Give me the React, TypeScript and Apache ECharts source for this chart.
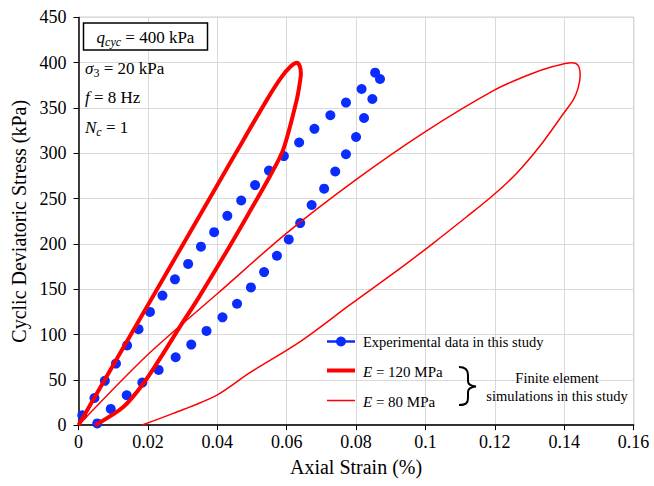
import React, { useEffect, useRef } from "react";
import * as echarts from "echarts";

// Experimental data (loading and unloading branches)
const expLoadStrain = [0.0011, 0.0046, 0.0076, 0.0108, 0.014, 0.0173, 0.0206, 0.0242, 0.0278, 0.0316, 0.0353, 0.0391, 0.0429, 0.0469, 0.0509, 0.0549, 0.0592, 0.0636, 0.068, 0.0726, 0.0771, 0.0816, 0.0855];
const expLoadStress = [11, 30, 49, 68, 88, 106, 125, 143, 161, 178, 197, 213, 231, 248, 265, 281, 297, 312, 327, 342, 356, 371, 389];
const expUnloadStrain = [0.0869, 0.0847, 0.0823, 0.08, 0.0771, 0.074, 0.0708, 0.0672, 0.0639, 0.0606, 0.0572, 0.0535, 0.0497, 0.0457, 0.0415, 0.0369, 0.0325, 0.028, 0.0231, 0.0184, 0.0139, 0.0093, 0.0054];
const expUnloadStress = [382, 360, 339, 318, 299, 280, 261, 243, 223, 205, 187, 169, 152, 134, 119, 104, 89, 75, 61, 47, 33, 18, 2];

// FE simulation, E = 120 MPa (closed loop: loading then unloading)
const e120Strain = [0, 0.0151, 0.0302, 0.0453, 0.0543, 0.0585, 0.0612, 0.063, 0.0638, 0.0641, 0.0638, 0.0629, 0.059, 0.0552, 0.0494, 0.0435, 0.0345, 0.0293, 0.0244, 0.0187, 0.0129, 0.0048];
const e120Stress = [0, 100, 200, 300, 359, 384, 396, 400, 396, 388, 378, 359, 304, 275, 236, 197, 140, 109, 79, 46, 20, 0];

// FE simulation, E = 80 MPa (closed loop: loading then unloading)
const e80Strain = [0, 0.02, 0.04, 0.06, 0.08, 0.1, 0.12, 0.13, 0.137, 0.1422, 0.144, 0.1446, 0.144, 0.1426, 0.1398, 0.133, 0.1263, 0.1196, 0.1119, 0.1023, 0.0927, 0.0783, 0.0638, 0.0494, 0.0398, 0.0273, 0.0182];
const e80Stress = [0, 78, 145, 212, 271, 324, 370, 387, 396, 400, 397, 386, 372, 359, 344, 308, 278, 254, 230, 201, 173, 133, 92, 58, 33, 13, 0];

const xTicks = { min: 0, max: 0.16, interval: 0.02 };
const yTicks = { min: 0, max: 450, interval: 50 };

const legendLabels = ["Experimental data in this study", "E = 120 MPa", "E = 80 MPa"];

const zip = (a: number[], b: number[]) => a.map((v, i) => [v, b[i]]);

const FONT = "'Liberation Serif', 'Times New Roman', serif";
const BLUE = "#0a2cff";
const RED = "#ff0000";

export default function App() {
  const ref = useRef<HTMLDivElement>(null);
  useEffect(() => {
    if (!ref.current) return;
    echarts.graphic.registerShape(
      "brace",
      echarts.graphic.extendPath(
        "M0,0 C7,0 9,3 9,8 L9,14 C9,17 11,19 17,19.5 C11,20 9,22 9,25 L9,31 C9,36 7,38 0,38",
        {}
      )
    );
    const chart = echarts.init(ref.current, undefined, { renderer: "svg" });
    const rich = {
      i: { fontFamily: FONT, fontStyle: "italic", fontSize: 17, color: "#000" },
      s: { fontFamily: FONT, fontStyle: "italic", fontSize: 12, color: "#000", verticalAlign: "bottom", lineHeight: 22 },
      sn: { fontFamily: FONT, fontSize: 12, color: "#000", verticalAlign: "bottom", lineHeight: 22 },
      n: { fontFamily: FONT, fontSize: 17, color: "#000" },
    };
    const legRich = {
      i: { fontFamily: FONT, fontStyle: "italic", fontSize: 15, color: "#000" },
      n: { fontFamily: FONT, fontSize: 15, color: "#000" },
    };
    chart.setOption({
      animation: false,
      backgroundColor: "#fff",
      grid: { left: 78.5, right: 20.4, top: 17.4, bottom: 60.8, show: true, borderColor: "#333", borderWidth: 1 },
      xAxis: {
        type: "value",
        min: xTicks.min,
        max: xTicks.max,
        interval: xTicks.interval,
        name: "Axial Strain (%)",
        nameLocation: "middle",
        nameGap: 32,
        nameTextStyle: { fontFamily: FONT, fontSize: 20, color: "#000" },
        axisLine: { show: true, lineStyle: { color: "#000", width: 1.5 } },
        axisTick: { show: true, inside: false, length: 5, lineStyle: { color: "#000" } },
        axisLabel: {
          fontFamily: FONT,
          fontSize: 18,
          color: "#000",
          margin: 8,
          formatter: (v: number) => String(+v.toFixed(2)),
        },
        splitLine: { show: true, lineStyle: { color: "#d9d9d9", width: 1 } },
      },
      yAxis: {
        type: "value",
        min: yTicks.min,
        max: yTicks.max,
        interval: yTicks.interval,
        name: "Cyclic Deviatoric Stress (kPa)",
        nameLocation: "middle",
        nameGap: 46,
        nameTextStyle: { fontFamily: FONT, fontSize: 20, color: "#000" },
        axisLine: { show: true, lineStyle: { color: "#000", width: 1.5 } },
        axisTick: { show: true, inside: false, length: 5, lineStyle: { color: "#000" } },
        axisLabel: { fontFamily: FONT, fontSize: 18, color: "#000", margin: 12 },
        splitLine: { show: true, lineStyle: { color: "#d9d9d9", width: 1 } },
      },
      series: [
        {
          name: legendLabels[0],
          type: "scatter",
          data: [...zip(expLoadStrain, expLoadStress), ...zip(expUnloadStrain, expUnloadStress)],
          symbol: "circle",
          symbolSize: 10,
          itemStyle: { color: BLUE, opacity: 1 },
          z: 2,
        },
        {
          name: legendLabels[1],
          type: "line",
          data: zip(e120Strain, e120Stress),
          showSymbol: false,
          smooth: 0.3,
          lineStyle: { color: RED, width: 4 },
          z: 3,
        },
        {
          name: legendLabels[2],
          type: "line",
          data: zip(e80Strain, e80Stress),
          showSymbol: false,
          smooth: 0.3,
          lineStyle: { color: RED, width: 1.5 },
          z: 3,
        },
      ],
      graphic: [
        // annotation box
        {
          type: "rect",
          shape: { x: 83.5, y: 23, width: 124, height: 27 },
          style: { fill: "#fff", stroke: "#000", lineWidth: 1.5 },
          z: 10,
        },
        {
          type: "text",
          x: 145.5,
          y: 37,
          style: { text: "{i|q}{s|cyc}{n| = 400 kPa}", rich, align: "center", verticalAlign: "middle" },
          z: 11,
        },
        {
          type: "text",
          x: 85,
          y: 68,
          style: { text: "{i|σ}{sn|3}{n| = 20 kPa}", rich, verticalAlign: "middle" },
          z: 11,
        },
        {
          type: "text",
          x: 85,
          y: 97,
          style: { text: "{i|f}{n| = 8 Hz}", rich, verticalAlign: "middle" },
          z: 11,
        },
        {
          type: "text",
          x: 85,
          y: 127,
          style: { text: "{i|N}{s|c}{n| = 1}", rich, verticalAlign: "middle" },
          z: 11,
        },
        // legend
        { type: "line", shape: { x1: 327, y1: 341.5, x2: 355, y2: 341.5 }, style: { stroke: BLUE, lineWidth: 2.5 }, z: 10 },
        { type: "circle", shape: { cx: 341, cy: 341.5, r: 5 }, style: { fill: BLUE }, z: 11 },
        { type: "text", x: 363, y: 342, style: { text: legendLabels[0], fontFamily: FONT, fontSize: 14.5, fill: "#000", verticalAlign: "middle" }, z: 11 },
        { type: "line", shape: { x1: 327, y1: 370.5, x2: 355, y2: 370.5 }, style: { stroke: RED, lineWidth: 4 }, z: 10 },
        { type: "text", x: 363, y: 372, style: { text: "{i|E}{n| = 120 MPa}", rich: legRich, verticalAlign: "middle" }, z: 11 },
        { type: "line", shape: { x1: 327, y1: 400.5, x2: 355, y2: 400.5 }, style: { stroke: RED, lineWidth: 1.5 }, z: 10 },
        { type: "text", x: 363, y: 402, style: { text: "{i|E}{n| = 80 MPa}", rich: legRich, verticalAlign: "middle" }, z: 11 },
        { type: "brace", x: 459, y: 367, style: { stroke: "#000", fill: "none", lineWidth: 2 }, z: 11 },
        { type: "text", x: 557, y: 378, style: { text: "Finite element", fontFamily: FONT, fontSize: 14.5, fill: "#000", align: "center", verticalAlign: "middle" }, z: 11 },
        { type: "text", x: 557, y: 396, style: { text: "simulations in this study", fontFamily: FONT, fontSize: 14.5, fill: "#000", align: "center", verticalAlign: "middle" }, z: 11 },
      ],
    });
    return () => chart.dispose();
  }, []);
  return <div ref={ref} style={{ position: "absolute", left: 0, top: 0, width: 654, height: 486 }} />;
}
